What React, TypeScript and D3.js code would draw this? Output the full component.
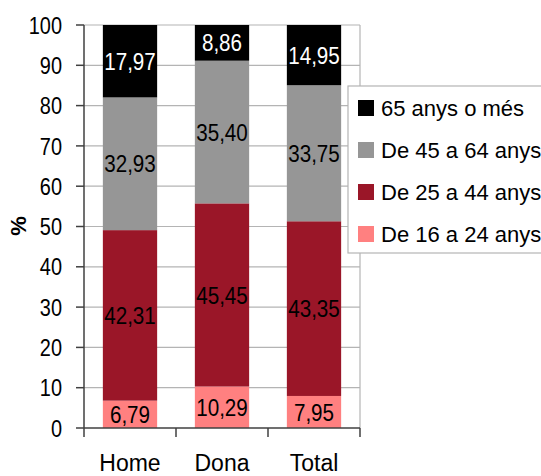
import React from "react";
import * as d3 from "d3";

const categories = ["Home", "Dona", "Total"];
const seriesNames = ["De 16 a 24 anys", "De 25 a 44 anys", "De 45 a 64 anys", "65 anys o més"];
const s16_24 = [6.79, 10.29, 7.95];
const s25_44 = [42.31, 45.45, 43.35];
const s45_64 = [32.93, 35.4, 33.75];
const s65 = [17.97, 8.86, 14.95];
const yTicks = [0, 10, 20, 30, 40, 50, 60, 70, 80, 90, 100];

const colors = ["#FF8080", "#9A1628", "#969696", "#000000"];
const labelColors = ["#000", "#000", "#000", "#fff"];

const W = 541, H = 476;
const left = 84, right = 360, top = 25, bottom = 428;

const fmt = (v: number) => v.toFixed(2).replace(".", ",");

export default function App() {
  const x = d3.scaleBand<string>().domain(categories).range([left, right]).paddingInner(0.41).paddingOuter(0.205);
  const y = d3.scaleLinear().domain([0, 100]).range([bottom, top]);
  const seriesData = [s16_24, s25_44, s45_64, s65];
  const rows = categories.map((c, i) => {
    const r: any = { cat: c };
    seriesNames.forEach((n, k) => (r[n] = seriesData[k][i]));
    return r;
  });
  const stack = d3.stack<any>().keys(seriesNames)(rows);
  const font = "'Liberation Sans', Arial, sans-serif";
  const catEdges = [left, ...categories.map((c) => (x(c)! + x.bandwidth() / 2 + x.step() / 2))];

  return (
    <svg width={W} height={H} style={{ position: "absolute", left: 0, top: 0, background: "#fff" }} fontFamily={font}>
      {/* gridlines */}
      {yTicks.filter((t) => t > 0).map((t) => (
        <line key={t} x1={left} x2={right} y1={y(t)} y2={y(t)} stroke="#b4b4b4" strokeWidth={1.2} />
      ))}
      <line x1={right} x2={right} y1={top} y2={bottom} stroke="#b4b4b4" strokeWidth={1.2} />
      {/* bars */}
      {stack.map((layer, k) =>
        layer.map((d, i) => (
          <rect key={`${k}-${i}`} x={x(categories[i])} width={x.bandwidth()} y={y(d[1])} height={y(d[0]) - y(d[1])} fill={colors[k]} />
        ))
      )}
      {/* data labels */}
      {stack.map((layer, k) =>
        layer.map((d, i) => (
          <g key={`l${k}-${i}`} transform={`translate(${x(categories[i])! + x.bandwidth() / 2},${(y(d[0]) + y(d[1])) / 2}) scale(0.86,1)`}>
            <text textAnchor="middle" dy="0.36em" fontSize={24} fill={labelColors[k]}>{fmt(d[1] - d[0])}</text>
          </g>
        ))
      )}
      {/* axes */}
      <line x1={left} x2={left} y1={top} y2={bottom} stroke="#404040" strokeWidth={1.5} />
      <line x1={left} x2={right} y1={bottom} y2={bottom} stroke="#404040" strokeWidth={1.5} />
      {yTicks.map((t) => (
        <g key={`t${t}`}>
          <line x1={left - 8} x2={left} y1={y(t)} y2={y(t)} stroke="#404040" strokeWidth={1.5} />
          <g transform={`translate(62,${y(t)}) scale(0.83,1)`}>
            <text textAnchor="end" dy="0.36em" fontSize={24} fill="#000">{t}</text>
          </g>
        </g>
      ))}
      {catEdges.map((e, i) => (
        <line key={`ct${i}`} x1={e} x2={e} y1={bottom} y2={bottom + 9} stroke="#404040" strokeWidth={1.5} />
      ))}
      {categories.map((c) => (
        <text key={c} x={x(c)! + x.bandwidth() / 2} y={471} textAnchor="middle" fontSize={23} fill="#000">{c}</text>
      ))}
      <text transform={`translate(26,226) rotate(-90)`} textAnchor="middle" fontSize={22} fontWeight="bold" fill="#000">%</text>
      {/* legend */}
      <rect x={348} y={86} width={200} height={167} fill="#fff" stroke="#b4b4b4" strokeWidth={1.2} />
      {[3, 2, 1, 0].map((k, j) => (
        <g key={`lg${k}`} transform={`translate(358,${108 + j * 42})`}>
          <rect x={0} y={-8} width={16} height={16} fill={colors[k]} />
          <text x={23} dy="0.36em" fontSize={22} fill="#000">{seriesNames[k]}</text>
        </g>
      ))}
    </svg>
  );
}
